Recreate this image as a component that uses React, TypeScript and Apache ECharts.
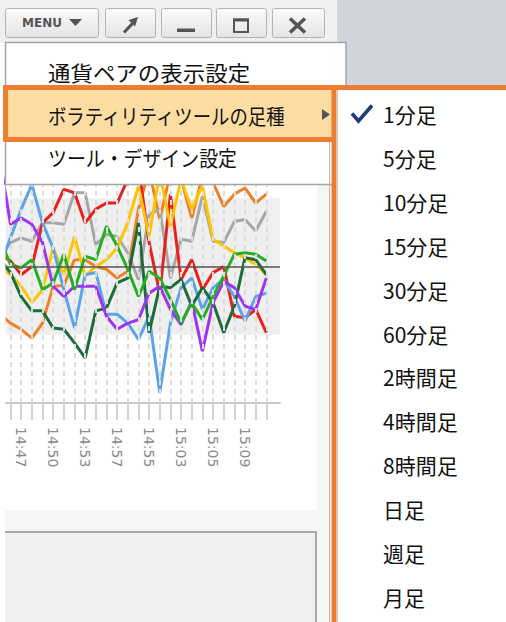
import React, { useEffect, useRef } from "react";
import * as echarts from "echarts";

// sample positions (index -1 is the partly clipped point at the left edge)
const samplePositions = [-1, 0, 1, 2, 3, 4, 5, 6, 7, 8, 9, 10, 11, 12, 13, 14, 15, 16, 17, 18, 19, 20, 21, 22, 23, 24];
const tickPositions = [0, 1, 2, 3, 4, 5, 6, 7, 8, 9, 10, 11, 12, 13, 14, 15, 16, 17, 18, 19, 20, 21, 22, 23, 24];
const timeLabels = ["14:47", "14:50", "14:53", "14:57", "14:55", "15:03", "15:05", "15:09"];
const labelPositions = [1, 4, 7, 10, 13, 16, 19, 22];

const orangeValues = [-0.70, -0.83, -0.92, -1.05, -0.83, -0.29, -0.28, 0.10, 0.10, 0.00, -0.04, -0.17, -0.07, 0.84, 1.42, 0.69, 1.37, 1.28, 0.71, 1.32, 1.23, 0.88, 1.06, 1.15, 0.93, 1.06];
const grayValues = [0.15, 0.35, 0.42, 0.37, 0.64, 0.64, 0.62, 1.08, 1.08, 0.32, 0.47, 0.44, 0.20, -0.19, 0.76, 0.84, -0.17, 0.40, 0.37, 1.03, 0.37, 0.35, 0.66, 0.69, 0.52, 0.81];
const redValues = [0.18, 0.08, -0.12, 0.00, 0.64, 0.79, 1.13, 1.08, 0.64, 0.84, 0.93, 0.93, 1.28, 1.47, 0.35, -0.39, 1.06, -0.19, 0.10, -0.34, -0.09, 0.00, -0.73, -0.75, -0.63, -0.97];
const yellowValues = [0.00, -0.12, -0.29, -0.53, -0.34, 0.27, -0.12, 0.44, -0.14, 0.00, 0.10, 0.27, 0.64, 1.18, 0.44, 1.37, 0.59, 1.28, 0.84, 1.18, 0.40, 0.30, 0.20, 0.13, 0.03, -0.12];
const blueValues = [0.00, 0.42, 0.84, 1.20, 0.64, 0.27, -0.34, -0.90, -0.12, -0.09, -0.70, -0.70, -0.83, -1.07, -0.73, -1.85, -0.83, -0.31, -0.17, -0.63, -0.31, -0.19, -0.44, -0.80, -0.44, -0.39];
const darkGreenValues = [0.10, -0.09, -0.44, -0.65, -0.65, -0.90, -0.92, -1.12, -1.34, -0.65, -0.61, -0.24, -0.17, 0.64, -0.97, -0.29, -0.31, -0.19, -0.58, -0.31, -0.53, -0.97, -0.58, 0.13, 0.10, -0.12];
const purpleValues = [1.57, 0.62, 0.71, 0.62, 0.35, -0.29, -0.44, -0.29, -0.29, -0.29, -0.73, -0.92, -0.83, -0.78, -0.39, -0.29, -0.63, -0.85, -0.51, -1.24, -0.53, -0.22, -0.31, -0.58, -0.63, -0.17];
const greenValues = [0.40, 0.03, -0.02, 0.10, -0.34, -0.24, 0.18, -0.34, 0.15, 0.10, 0.59, 0.30, -0.04, -0.44, -0.07, -0.17, -0.48, -0.83, -0.53, -0.78, -0.44, -0.14, 0.18, 0.20, 0.18, 0.08];

const seriesList = [
  { name: "orange", color: "#f08024", values: orangeValues },
  { name: "gray", color: "#a6a6a6", values: grayValues },
  { name: "red", color: "#e8221a", values: redValues },
  { name: "yellow", color: "#ffc400", values: yellowValues },
  { name: "blue", color: "#5ba4e8", values: blueValues },
  { name: "darkGreen", color: "#1c6b3d", values: darkGreenValues },
  { name: "purple", color: "#a033f0", values: purpleValues },
  { name: "green", color: "#22b022", values: greenValues },
];

const menuItems = ["通貨ペアの表示設定", "ボラティリティツールの足種", "ツール・デザイン設定"];
const subMenuItems = ["1分足", "5分足", "10分足", "15分足", "30分足", "60分足", "2時間足", "4時間足", "8時間足", "日足", "週足", "月足"];

const JP = '"Noto Sans CJK JP", "Noto Sans", sans-serif';
const Z = 100;

function btnFill() {
  return {
    type: "linear", x: 0, y: 0, x2: 0, y2: 1,
    colorStops: [
      { offset: 0, color: "#fbfbfb" },
      { offset: 1, color: "#e4e4e4" },
    ],
  };
}

function buildGraphics() {
  const g: any[] = [];
  const rect = (x: number, y: number, w: number, h: number, style: any, r = 0) =>
    g.push({ type: "rect", z: Z, silent: true, shape: { x, y, width: w, height: h, r }, style });
  const line = (x1: number, y1: number, x2: number, y2: number, stroke: string, lineWidth: number) =>
    g.push({ type: "line", z: Z + 2, silent: true, shape: { x1, y1, x2, y2 }, style: { stroke, lineWidth } });
  const text = (x: number, y: number, t: string, size: number, scaleX = 1, extra: any = {}) =>
    g.push({
      type: "text", z: Z + 3, silent: true, x, y, scaleX,
      style: { text: t, fill: "#111", fontSize: size, fontFamily: JP, verticalAlign: "middle", align: "left", ...extra },
    });

  // left white margin & right strips
  rect(0, 185, 5.5, 437, { fill: "#ffffff" });
  rect(317, 185, 14, 437, { fill: "#f5f5f5" });
  // bottom panel
  rect(5, 510, 312, 22, { fill: "#f5f5f5" });
  rect(5, 532, 311, 90, { fill: "#f0f0f0" });
  g.push({ type: "polyline", z: Z + 1, silent: true, shape: { points: [[5, 532], [316, 532], [316, 622]] }, style: { stroke: "#a8a8a8", lineWidth: 2, fill: null } });

  // top bar
  rect(0, 0, 337, 43, { fill: "#f0f0f0" });
  rect(337, 0, 169, 86, { fill: "#d0d4dd" });
  const buttons = [
    [5, 93], [105, 50], [161, 50], [216, 50], [272, 52],
  ];
  buttons.forEach(([x, w]) => rect(x + 0.5, 8.5, w, 29, { fill: btnFill(), stroke: "#b4b4b4", lineWidth: 1 }, 2));
  g.push({ type: "text", z: Z + 3, silent: true, x: 22, y: 23, style: { text: "MENU", fill: "#555", fontSize: 12, fontWeight: "bold", fontFamily: "DejaVu Sans", verticalAlign: "middle" } });
  g.push({ type: "polygon", z: Z + 3, silent: true, shape: { points: [[69, 19], [82, 19], [75.5, 26]] }, style: { fill: "#555" } });
  // pin icon
  g.push({ type: "polygon", z: Z + 3, silent: true, shape: { points: [[138, 17], [128.5, 20], [135, 26.5]] }, style: { fill: "#555" } });
  line(124, 32.5, 132.5, 23.5, "#555", 3.2);
  // minimize
  rect(177, 28.5, 18, 3.5, { fill: "#555" });
  g[g.length - 1].z = Z + 3;
  // maximize
  g.push({ type: "rect", z: Z + 3, silent: true, shape: { x: 234, y: 19.5, width: 14, height: 12.5 }, style: { fill: null, stroke: "#555", lineWidth: 2 } });
  line(233, 20, 249, 20, "#555", 3);
  // close
  line(290, 18.5, 305, 32.5, "#555", 3.6);
  line(305, 18.5, 290, 32.5, "#555", 3.6);

  // main menu
  rect(5.5, 42.5, 340.5, 142, { fill: "#ffffff", stroke: "#a4a4a4", lineWidth: 1.5 });
  rect(5.5, 87.5, 329, 52, { fill: "#fddda2", stroke: "#ed7d31", lineWidth: 5 });
  g[g.length - 1].z = Z + 1;
  text(48, 72, menuItems[0], 21, 1.07);
  text(48, 114.5, menuItems[1], 21, 0.875);
  text(48, 157, menuItems[2], 21, 0.9);
  g.push({ type: "polygon", z: Z + 3, silent: true, shape: { points: [[322, 109], [330, 114.5], [322, 120]] }, style: { fill: "#555" } });

  // sub menu
  line(329.5, 142, 329.5, 622, "#b8b8b8", 1);
  g.push({ type: "rect", z: Z + 1, silent: true, shape: { x: 334, y: 87.5, width: 180, height: 540 }, style: { fill: "#ffffff", stroke: "#ed7d31", lineWidth: 5 } });
  line(337.5, 90, 337.5, 622, "#c8c8c8", 1);
  g.push({ type: "polyline", z: Z + 3, silent: true, shape: { points: [[352, 113.5], [358.5, 121], [372, 105.5]] }, style: { stroke: "#1f3c7a", lineWidth: 3.6, fill: null, lineJoin: "miter" } });
  subMenuItems.forEach((t, i) => text(383, 114 + 43.9 * i, t, 21));

  return g;
}

export default function App() {
  const ref = useRef<HTMLDivElement>(null);

  useEffect(() => {
    if (!ref.current) return;
    const chart = echarts.init(ref.current, undefined, { renderer: "svg" });

    const lineSeries = seriesList.map((s) => ({
      name: s.name,
      type: "line",
      data: samplePositions.map((p, i) => [p, s.values[i]]),
      symbol: "none",
      clip: true,
      silent: true,
      z: 3,
      lineStyle: { width: 3, color: s.color },
      itemStyle: { color: s.color },
    }));

    const guideSeries = {
      name: "guides",
      type: "line",
      data: [],
      silent: true,
      z: 1,
      markArea: {
        silent: true,
        itemStyle: { color: "#efefef" },
        data: [[{ yAxis: -1 }, { yAxis: 1 }]],
      },
      markLine: {
        silent: true,
        symbol: ["none", "none"],
        label: { show: false },
        data: [
          ...tickPositions.map((k) => ({ xAxis: k, lineStyle: { type: [5, 4], color: "#dcdcdc", width: 2 } })),
          { yAxis: 0, lineStyle: { type: "solid", color: "#555555", width: 1.5 } },
        ],
      },
    };

    chart.setOption({
      animation: false,
      grid: { left: 5.5, top: 130, width: 274.5, height: 273 },
      xAxis: {
        type: "value",
        min: -0.47,
        max: 25.28,
        axisLine: { show: true, onZero: false, lineStyle: { color: "#c8c8c8", width: 2 } },
        axisTick: { show: true, customValues: tickPositions, length: 17, lineStyle: { color: "#d2d2d2", width: 2 } },
        axisLabel: {
          customValues: labelPositions,
          formatter: (v: number) => timeLabels[labelPositions.indexOf(Math.round(v))] ?? "",
          rotate: -90,
          margin: 24,
          color: "#8a8a8a",
          fontSize: 14,
          fontFamily: "DejaVu Sans",
        },
        splitLine: { show: false },
      },
      yAxis: { type: "value", min: -2, max: 2, show: false },
      series: [guideSeries, ...lineSeries],
      graphic: buildGraphics(),
    });

    return () => chart.dispose();
  }, []);

  return (
    <div
      ref={ref}
      style={{ position: "fixed", left: 0, top: 0, width: 506, height: 622, background: "#ffffff" }}
    />
  );
}
